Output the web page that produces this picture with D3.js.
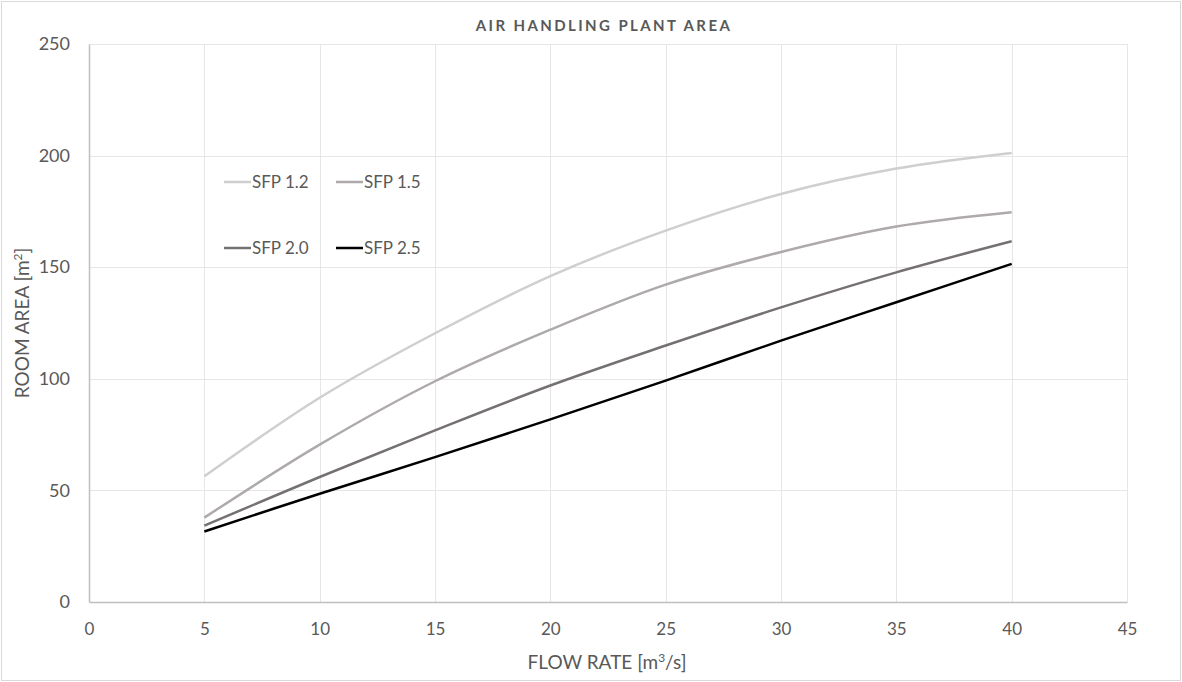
<!DOCTYPE html>
<html>
<head>
<meta charset="utf-8">
<script src="https://cdn.jsdelivr.net/npm/d3@7"></script>
<style>
  body { margin: 0; background: #fff; }
  text { font-family: Lato, "Open Sans", sans-serif; fill: #595959; }
</style>
</head>
<body>
<script>
// data
var flowRates = [5, 10, 15, 20, 25, 30, 35, 40]
var sfp12 = [56.3, 91.5, 120.4, 146.0, 166.4, 182.8, 194.2, 201.2]
var sfp15 = [37.8, 70.5, 98.9, 122.0, 142.2, 156.8, 168.2, 174.6]
var sfp20 = [34.2, 56.0, 76.9, 97.0, 114.9, 132.0, 147.7, 161.6]
var sfp25 = [31.6, 48.5, 64.9, 81.8, 99.2, 117.1, 134.3, 151.5]
var seriesNames = ['SFP 1.2', 'SFP 1.5', 'SFP 2.0', 'SFP 2.5']
var xTicks = [0, 5, 10, 15, 20, 25, 30, 35, 40, 45]
var yTicks = [0, 50, 100, 150, 200, 250]

var colors = ['#d0cece', '#aeaaaa', '#767171', '#000000']
var allSeries = [sfp12, sfp15, sfp20, sfp25]

var W = 1182, H = 682
var margin = {top: 44, right: 55, bottom: 80, left: 89}
var width = W - margin.left - margin.right,
    height = H - margin.top - margin.bottom

var svg = d3.select('body').append('svg')
  .attr('width', W)
  .attr('height', H)

// outer border
svg.append('rect')
  .attr('x', 1.5).attr('y', 1.5)
  .attr('width', W - 3).attr('height', H - 3)
  .attr('fill', '#fff')
  .attr('stroke', '#d9d9d9')

var g = svg.append('g')
  .attr('transform', 'translate(' + margin.left + ',' + margin.top + ')')

var xScale = d3.scaleLinear().domain([0, 45]).range([0, width])
var yScale = d3.scaleLinear().domain([0, 250]).range([height, 0])

// gridlines
g.append('g')
  .attr('class', 'grid')
  .selectAll('line.v')
  .data(xTicks.slice(1))
  .enter().append('line')
  .attr('x1', function(d) { return Math.round(xScale(d)) + 0.5 })
  .attr('x2', function(d) { return Math.round(xScale(d)) + 0.5 })
  .attr('y1', 0).attr('y2', height)
  .attr('stroke', '#e6e6e6')

g.append('g')
  .attr('class', 'grid')
  .selectAll('line.h')
  .data(yTicks.slice(1))
  .enter().append('line')
  .attr('y1', function(d) { return Math.round(yScale(d)) + 0.5 })
  .attr('y2', function(d) { return Math.round(yScale(d)) + 0.5 })
  .attr('x1', 0).attr('x2', width)
  .attr('stroke', '#e6e6e6')

// axes
var xAxis = d3.axisBottom(xScale).tickValues(xTicks).tickSize(0).tickPadding(21)
var yAxis = d3.axisLeft(yScale).tickValues(yTicks).tickSize(0).tickPadding(19)

var xg = g.append('g')
  .attr('transform', 'translate(0,' + height + ')')
  .call(xAxis)
xg.select('.domain').attr('stroke', '#bfbfbf').attr('stroke-width', 1.5)
xg.selectAll('text').style('font-size', '17px').attr('fill', '#595959')

var yg = g.append('g').call(yAxis)
yg.select('.domain').attr('stroke', '#bfbfbf').attr('stroke-width', 1.5)
yg.selectAll('text').style('font-size', '18px').attr('fill', '#595959')

// lines
var lineGenerator = d3.line()
  .x(function(d, i) { return xScale(flowRates[i]) })
  .y(function(d) { return yScale(d) })
  .curve(d3.curveCatmullRom.alpha(0.5))

g.selectAll('path.series')
  .data(allSeries)
  .enter().append('path')
  .attr('class', 'series')
  .attr('d', lineGenerator)
  .attr('fill', 'none')
  .attr('stroke', function(d, i) { return colors[i] })
  .attr('stroke-width', 2.5)

// legend (2 x 2)
var legendPos = [[224, 182], [336, 182], [224, 248], [336, 248]]
var legend = svg.selectAll('g.legend')
  .data(seriesNames)
  .enter().append('g')
  .attr('class', 'legend')
  .attr('transform', function(d, i) { return 'translate(' + legendPos[i][0] + ',' + legendPos[i][1] + ')' })

legend.append('line')
  .attr('x1', 0).attr('x2', 27)
  .attr('y1', 0).attr('y2', 0)
  .attr('stroke', function(d, i) { return colors[i] })
  .attr('stroke-width', 2.5)

legend.append('text')
  .attr('x', 28).attr('y', 6)
  .style('font-size', '17px')
  .text(function(d) { return d })

// title
svg.append('text')
  .attr('x', 604).attr('y', 31)
  .attr('text-anchor', 'middle')
  .style('font-size', '15px')
  .style('font-weight', 'bold')
  .style('letter-spacing', '2.4px')
  .text('AIR HANDLING PLANT AREA')

// axis titles
var xt = svg.append('text')
  .attr('x', 607).attr('y', 669)
  .attr('text-anchor', 'middle')
  .style('font-size', '19px')
xt.append('tspan').text('FLOW RATE [m')
xt.append('tspan').attr('dy', -7).style('font-size', '12px').text('3')
xt.append('tspan').attr('dy', 7).text('/s]')

var yt = svg.append('text')
  .attr('transform', 'translate(29,' + (margin.top + height / 2) + ') rotate(-90)')
  .attr('text-anchor', 'middle')
  .style('font-size', '19px')
yt.append('tspan').text('ROOM AREA [m')
yt.append('tspan').attr('dy', -7).style('font-size', '12px').text('2')
yt.append('tspan').attr('dy', 7).text(']')
</script>
</body>
</html>
